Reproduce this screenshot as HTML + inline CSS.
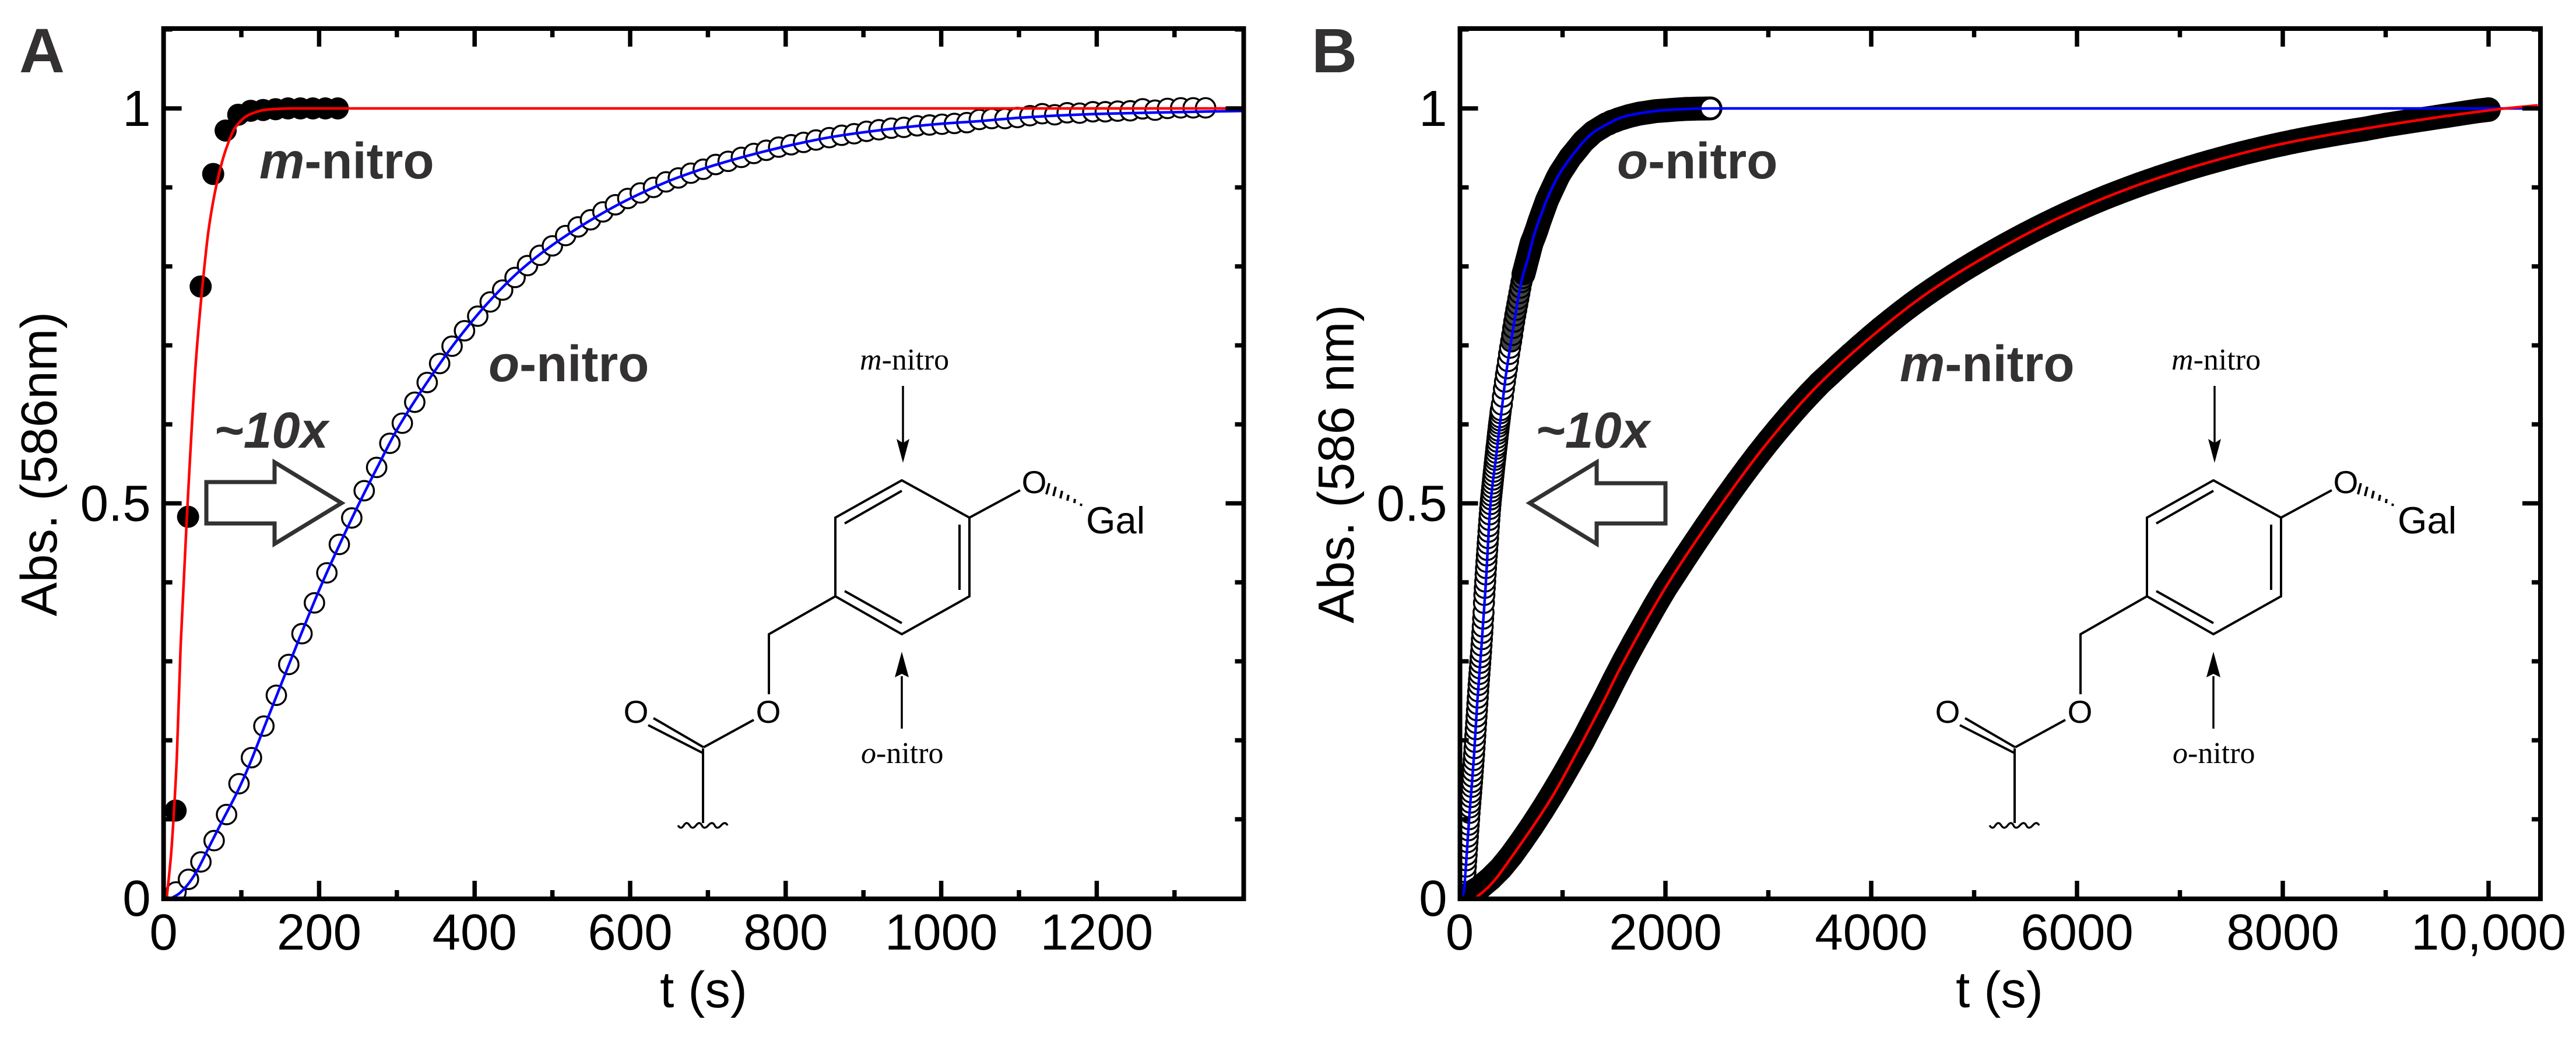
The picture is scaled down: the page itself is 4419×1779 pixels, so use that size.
<!DOCTYPE html>
<html lang="en">
<head>
<meta charset="utf-8">
<title>Kinetics of m-nitro and o-nitro substrates</title>
<style>
html,body{margin:0;padding:0;background:#fff}
svg{display:block}
text{font-family:"Liberation Sans",sans-serif}
.tick-label{font-size:87px;fill:#000}
.axis-title{font-size:87px;fill:#000}
.anno{font-size:87px;font-weight:bold;fill:#333132}
.panel{font-size:108px;font-weight:bold;fill:#333132}
.chem{font-size:55px;fill:#000}
.chem-label{font-size:52px;fill:#000;font-family:"Liberation Serif",serif}
</style>
</head>
<body>
<svg id="fig" width="4419" height="1779" viewBox="0 0 4419 1779" xmlns="http://www.w3.org/2000/svg">
<rect width="4419" height="1779" fill="#fff"/>
<defs>
<clipPath id="clipA"><rect x="280" y="49" width="1853" height="1493"/></clipPath>
<clipPath id="clipB"><rect x="2504" y="49" width="1854" height="1493"/></clipPath>
</defs>
<g id="plotA"></g>
<g id="plotB"></g>

<text class="panel" x="33" y="124">A</text>
<text class="panel" x="2250" y="124">B</text>

<text class="axis-title" text-anchor="middle" transform="translate(97,796) rotate(-90)">Abs. (586nm)</text>
<text class="axis-title" text-anchor="middle" x="1207" y="1728">t (s)</text>
<text class="axis-title" text-anchor="middle" transform="translate(2322,796) rotate(-90)">Abs. (586 nm)</text>
<text class="axis-title" text-anchor="middle" x="3430" y="1728">t (s)</text>

<text class="anno" x="445" y="306"><tspan font-style="italic">m</tspan>-nitro</text>
<text class="anno" x="838" y="654"><tspan font-style="italic">o</tspan>-nitro</text>
<text class="anno" font-style="italic" x="367" y="768">~10x</text>
<polygon points="354,827 471,827 471,793 586,863 471,933 471,898 354,898" fill="#fff" stroke="#333132" stroke-width="7"/>

<text class="anno" x="2774" y="306"><tspan font-style="italic">o</tspan>-nitro</text>
<text class="anno" x="3259" y="654"><tspan font-style="italic">m</tspan>-nitro</text>
<text class="anno" font-style="italic" x="2634" y="768">~10x</text>
<polygon points="2857,829 2739,829 2739,793 2624,863 2739,933 2739,898 2857,898" fill="#fff" stroke="#333132" stroke-width="7"/>

<g>
<g fill="none" stroke="#000" stroke-width="4">
<polygon points="1547,824 1663,888 1663,1023 1547,1088 1433,1023 1433,888"/>
<path d="M1449,898 L1547,842 M1646,900 L1646,1012 M1449,1014 L1547,1069 M1663,888 L1750,841 M1433,1023 L1319,1088 L1319,1191 M1293,1235 L1207,1282 M1207,1282 L1121,1232 M1206,1292 L1112,1244 M1206,1284 L1206,1412"/>
<path d="M1800,829 L1795,848 M1811,835 L1807,851 M1822,842 L1819,855 M1833,849 L1831,859 M1844,856 L1843,863 M1855,864 L1854,868"/>
<path d="M1163,1416 q5,8 10,0 t10,0 t11,0 t10,0 t11,0 t11,0 t11,0 t11,0" stroke-width="3.5"/>
<path d="M1549,662 L1549,760 M1547,1160 L1547,1250" stroke-width="3.5"/>
</g>
<polygon points="1538,753 1549,794 1560,753 1549,760" fill="#000"/>
<polygon points="1535,1162 1547,1118 1559,1162 1547,1156" fill="#000"/>
<text class="chem" x="1774" y="846" text-anchor="middle">O</text>
<text class="chem" x="1318" y="1240" text-anchor="middle">O</text>
<text class="chem" x="1091" y="1240" text-anchor="middle">O</text>
<text class="chem" x="1863" y="915" style="font-size:65px">Gal</text>
<text class="chem-label" x="1475" y="634"><tspan font-style="italic">m</tspan>-nitro</text>
<text class="chem-label" x="1477" y="1309"><tspan font-style="italic">o</tspan>-nitro</text>
</g>

<g transform="translate(2250,0)">
<g fill="none" stroke="#000" stroke-width="4">
<polygon points="1547,824 1663,888 1663,1023 1547,1088 1433,1023 1433,888"/>
<path d="M1449,898 L1547,842 M1646,900 L1646,1012 M1449,1014 L1547,1069 M1663,888 L1750,841 M1433,1023 L1319,1088 L1319,1191 M1293,1235 L1207,1282 M1207,1282 L1121,1232 M1206,1292 L1112,1244 M1206,1284 L1206,1412"/>
<path d="M1800,829 L1795,848 M1811,835 L1807,851 M1822,842 L1819,855 M1833,849 L1831,859 M1844,856 L1843,863 M1855,864 L1854,868"/>
<path d="M1163,1416 q5,8 10,0 t10,0 t11,0 t10,0 t11,0 t11,0 t11,0 t11,0" stroke-width="3.5"/>
<path d="M1549,662 L1549,760 M1547,1160 L1547,1250" stroke-width="3.5"/>
</g>
<polygon points="1538,753 1549,794 1560,753 1549,760" fill="#000"/>
<polygon points="1535,1162 1547,1118 1559,1162 1547,1156" fill="#000"/>
<text class="chem" x="1774" y="846" text-anchor="middle">O</text>
<text class="chem" x="1318" y="1240" text-anchor="middle">O</text>
<text class="chem" x="1091" y="1240" text-anchor="middle">O</text>
<text class="chem" x="1863" y="915" style="font-size:65px">Gal</text>
<text class="chem-label" x="1475" y="634"><tspan font-style="italic">m</tspan>-nitro</text>
<text class="chem-label" x="1477" y="1309"><tspan font-style="italic">o</tspan>-nitro</text>
</g>
</svg>

<script>
// ---- Panel A data ----
const aXTickLabels = ['0','200','400','600','800','1000','1200'];
const aXTickValues = [0,200,400,600,800,1000,1200];
const aXMinorValues = [100,300,500,700,900,1100,1300];
const bXTickLabels = ['0','2000','4000','6000','8000','10,000'];
const bXTickValues = [0,2000,4000,6000,8000,10000];
const bXMinorValues = [1000,3000,5000,7000,9000];
const yTickLabels = ['0','0.5','1'];
const yTickValues = [0,0.5,1];
const yMinorValues = [0.1,0.2,0.3,0.4,0.6,0.7,0.8,0.9,1.1];

const aMTime = [15.5,31.5,47.7,63.8,79.8,96,112,128,144,160,176,192,208,224];
const aMValues = [0.111,0.483,0.7745,0.917,0.972,0.992,0.997,0.998,0.999,1,1,1,1,1];
const aMFitTime = [4,9.6,13.4,17,22,30,41.4,49.8,58,68,80,93,110,133,167,1400];
const aMFitValues = [0,0.055,0.111,0.178,0.32,0.483,0.6775,0.773,0.847,0.903,0.9476,0.977,0.992,0.9985,1,1];

const aOTime = [16,32,48,65,81,97,113,129,145,161,178,194,210,226,242,258,274,291,307,323,339,355,371,387,404,420,436,452,468,484,500,517,533,549,565,581,597,613,630,646,662,678,694,710,726,743,759,775,791,807,823,839,856,872,888,904,920,936,952,969,985,1001,1017,1033,1049,1065,1082,1098,1114,1130,1146,1162,1178,1195,1211,1227,1243,1259,1275,1291,1308,1324,1340];
const aOValues = [0.008,0.024,0.046,0.073,0.106,0.145,0.178,0.218,0.257,0.296,0.335,0.374,0.412,0.448,0.4815,0.516,0.5455,0.576,0.6015,0.628,0.653,0.677,0.699,0.7185,0.737,0.755,0.77,0.786,0.801,0.814,0.826,0.839,0.85,0.859,0.869,0.878,0.886,0.893,0.9,0.907,0.912,0.918,0.923,0.929,0.933,0.938,0.943,0.947,0.951,0.954,0.957,0.96,0.963,0.966,0.968,0.971,0.973,0.975,0.976,0.978,0.979,0.98,0.981,0.982,0.986,0.9872,0.9872,0.9885,0.9908,0.9933,0.992,0.9945,0.994,0.9958,0.9958,0.9966,0.997,0.9995,0.9978,1,1.0007,1.0007,1.0007];
const aOFitTime = [10,20,30,42,57,75,95,110,130,150,175,200,225,250,275,300,340,380,420,460,500,550,600,660,725,800,860,926,993,1050,1105,1200,1340,1400];
const aOFitValues = [0,0.006,0.016,0.033,0.062,0.097,0.135,0.168,0.218,0.268,0.33,0.39,0.445,0.497,0.546,0.593,0.655,0.71,0.757,0.796,0.827,0.859,0.886,0.912,0.933,0.952,0.964,0.973,0.98,0.984,0.9885,0.993,0.996,0.997];

// ---- Panel B data ----
const bOTime = [4,8,12,16,20,24,28,32,36,40,44,48,52,56,60,64,68,72,76,80,84,88,92,96,100,104,108,112,116,120,124,128,132,136,140,144,148,152,156,160,164,168,172,176,180,184,188,192,196,200,204,208,212,216,220,224,228,232,236,240,244,248,252,256,260,264,268,272,276,280,284,288,292,296,300,304,308,312,316,320,324,328,332,336,340,344,348,352,356,360,364,368,372,376,380,384,388,392,396,400,410,420,430,440,450,460,470,480,490,500,510,520,530,540,550,560,570,580,590,600,610,620,630,640,650,660,670,680,690,700,725,750,775,800,825,850,875,900,925,950,975,1000,1025,1050,1075,1100,1125,1150,1175,1200,1225,1250,1275,1300,1325,1350,1375,1400,1425,1450,1475,1500,1550,1600,1650,1700,1750,1800,1850,1900,1950,2000,2050,2100,2150,2200,2250,2300,2350,2400,2438];
const bOValues = [0,0,0.001,0.001,0.002,0.003,0.004,0.005,0.006,0.008,0.014,0.02,0.026,0.033,0.04,0.048,0.055,0.063,0.071,0.078,0.086,0.093,0.1,0.108,0.115,0.121,0.128,0.134,0.141,0.147,0.154,0.161,0.168,0.175,0.182,0.19,0.198,0.206,0.214,0.222,0.23,0.238,0.246,0.254,0.262,0.27,0.277,0.284,0.291,0.298,0.305,0.312,0.32,0.328,0.336,0.344,0.354,0.362,0.374,0.384,0.393,0.401,0.41,0.418,0.426,0.434,0.441,0.449,0.456,0.464,0.471,0.479,0.486,0.493,0.499,0.505,0.51,0.515,0.52,0.525,0.53,0.535,0.54,0.545,0.55,0.555,0.559,0.564,0.569,0.573,0.578,0.583,0.588,0.592,0.597,0.601,0.605,0.609,0.614,0.618,0.625,0.635,0.645,0.654,0.663,0.671,0.68,0.689,0.697,0.705,0.713,0.722,0.73,0.738,0.745,0.752,0.759,0.766,0.773,0.78,0.785,0.79,0.795,0.8,0.805,0.81,0.815,0.82,0.825,0.83,0.838,0.847,0.857,0.866,0.875,0.884,0.891,0.898,0.905,0.912,0.918,0.923,0.928,0.933,0.938,0.942,0.946,0.95,0.954,0.958,0.961,0.964,0.967,0.97,0.972,0.974,0.976,0.978,0.98,0.981,0.983,0.984,0.9865,0.9885,0.9905,0.992,0.9935,0.9945,0.9955,0.9965,0.997,0.9975,0.998,0.9985,0.999,0.9993,0.9995,0.9997,0.9998,0.9999,1];
const bOFitTime = [20,40,60,80,100,120,140,170,210,250,300,350,408,450,490,528,597,674,723,790,852,960,1080,1283,1404,1608,1860,2004,2438,10500];
const bOFitValues = [0.002,0.008,0.04,0.078,0.115,0.147,0.182,0.246,0.316,0.39,0.4996,0.555,0.618,0.663,0.697,0.728,0.779,0.815,0.84,0.865,0.886,0.915,0.938,0.968,0.978,0.99,0.996,0.998,1,1];

const bMTime = [100,200,300,400,500,600,700,800,900,1000,1100,1200,1300,1400,1500,1600,1700,1800,1900,2000,2100,2200,2300,2400,2500,2600,2700,2800,2900,3000,3100,3200,3300,3400,3500,3600,3700,3800,3900,4000,4100,4200,4300,4400,4500,4600,4700,4800,4900,5000,5100,5200,5300,5400,5500,5600,5700,5800,5900,6000,6100,6200,6300,6400,6500,6600,6700,6800,6900,7000,7100,7200,7300,7400,7500,7600,7700,7800,7900,8000,8100,8200,8300,8400,8500,8600,8700,8800,8900,9000,9100,9200,9300,9400,9500,9600,9700,9800,9900,10000];
const bMValues = [0.006,0.014,0.025,0.038,0.054,0.072,0.091,0.111,0.132,0.154,0.177,0.2,0.225,0.25,0.276,0.301,0.325,0.348,0.371,0.393,0.413,0.433,0.4525,0.4718,0.4907,0.5092,0.5273,0.5449,0.562,0.5785,0.5944,0.6097,0.6244,0.6385,0.6521,0.664,0.6762,0.688,0.6995,0.7108,0.7218,0.7322,0.7424,0.7523,0.7618,0.7708,0.7795,0.7879,0.7961,0.804,0.8117,0.8192,0.8265,0.8336,0.8405,0.8472,0.8537,0.86,0.8661,0.872,0.8777,0.8832,0.8885,0.8936,0.8985,0.9033,0.9079,0.9124,0.9167,0.9209,0.9249,0.9288,0.9325,0.9361,0.9396,0.943,0.9462,0.9493,0.9523,0.9552,0.9579,0.9605,0.963,0.9654,0.9677,0.9699,0.972,0.9741,0.9766,0.979,0.981,0.983,0.985,0.987,0.989,0.991,0.993,0.995,0.997,0.9985];
const bMFitTime = [153,300,525,883,1065,1209,1421,1535,2004,2475,2980,3449,3956,4533,5040,5802,6524,7246,7968,8691,9413,10136,10478];
const bMFitValues = [0,0.017,0.056,0.125,0.167,0.202,0.255,0.285,0.394,0.486,0.575,0.645,0.706,0.765,0.807,0.86,0.8997,0.9305,0.9545,0.972,0.987,0.9996,1.004];

// ---- Axis functions ----
const NS = 'http://www.w3.org/2000/svg';
const Y0 = 1541, Y1 = 186;
const yScale = v => Y0 + (Y1 - Y0) * v;
const xScaleA = t => 280.6 + t * 1.334;
const xScaleB = t => 2504 + t * 0.1765;

function make(tag, parent, attrs) {
  const el = document.createElementNS(NS, tag);
  for (const k in attrs) el.setAttribute(k, attrs[k]);
  parent.appendChild(el);
  return el;
}
function pts(T, V, sx) {
  return T.map((t, i) => sx(t).toFixed(1) + ',' + yScale(V[i]).toFixed(1)).join(' ');
}
// monotone cubic path through the data knots
function smoothPath(T, V, sx) {
  const xs = T.map(sx), ys = V.map(yScale), n = xs.length;
  const d = [];
  for (let i = 0; i < n - 1; i++) d.push((ys[i + 1] - ys[i]) / (xs[i + 1] - xs[i]));
  const m = [d[0]];
  for (let i = 1; i < n - 1; i++) {
    m.push(d[i - 1] * d[i] <= 0 ? 0 : 2 * d[i - 1] * d[i] / (d[i - 1] + d[i]));
  }
  m.push(d[n - 2]);
  let p = 'M' + xs[0].toFixed(1) + ',' + ys[0].toFixed(1);
  for (let i = 0; i < n - 1; i++) {
    const h = (xs[i + 1] - xs[i]) / 3;
    p += ' C' + (xs[i] + h).toFixed(1) + ',' + (ys[i] + m[i] * h).toFixed(1) + ' ' +
      (xs[i + 1] - h).toFixed(1) + ',' + (ys[i + 1] - m[i + 1] * h).toFixed(1) + ' ' +
      xs[i + 1].toFixed(1) + ',' + ys[i + 1].toFixed(1);
  }
  return p;
}

function drawAxes(parent, L, R, sx, majors, labels, minors) {
  const T = 49, B = 1542;
  majors.forEach((v, i) => {
    const x = sx(v);
    [[B, B - 31], [T, T + 31]].forEach(p => {
      if (v === 0) return;
      const tick = make('line', parent, {x1: x, x2: x, y1: p[0], y2: p[1], stroke: '#000', 'stroke-width': 7.5});
      
      
    });
    const lab = make('text', parent, {x: x, y: 1629, 'text-anchor': 'middle', class: 'tick-label'});
    lab.textContent = labels[i];
    
    
  });
  minors.forEach(v => {
    const x = sx(v);
    [[B, B - 15], [T, T + 15]].forEach(p => {
      const tick = make('line', parent, {x1: x, x2: x, y1: p[0], y2: p[1], stroke: '#000', 'stroke-width': 7.5});
      
      
    });
  });
  yTickValues.forEach((v, i) => {
    const y = yScale(v);
    [[L, L + 31], [R, R - 31]].forEach(p => {
      if (v === 0) return;
      const tick = make('line', parent, {x1: p[0], x2: p[1], y1: y, y2: y, stroke: '#000', 'stroke-width': 7.5});
      
      
    });
    const lab = make('text', parent, {x: L - 22, y: y + 30, 'text-anchor': 'end', class: 'tick-label'});
    lab.textContent = yTickLabels[i];
    
    
  });
  yMinorValues.forEach(v => {
    const y = yScale(v);
    [[L, L + 15], [R, R - 15]].forEach(p => {
      const tick = make('line', parent, {x1: p[0], x2: p[1], y1: y, y2: y, stroke: '#000', 'stroke-width': 7.5});
      
      
    });
  });
  const frame = make('rect', parent, {x: L, y: T, width: R - L, height: B - T, fill: 'none', stroke: '#000', 'stroke-width': 8});
  
  
}

// ---- Panel A ----
const plotA = document.getElementById('plotA');
const clipA = make('g', plotA, {'clip-path': 'url(#clipA)'});


aOTime.forEach((t, i) => {
  const c = make('circle', clipA, {cx: xScaleA(t), cy: yScale(aOValues[i]), r: 16.7, fill: '#fff', stroke: '#000', 'stroke-width': 3.4});
  
  
});
aMTime.forEach((t, i) => {
  const c = make('circle', clipA, {cx: xScaleA(t), cy: yScale(aMValues[i]), r: 19, fill: '#000'});
  
  
});
const aMFit = make('path', clipA, {d: smoothPath(aMFitTime, aMFitValues, xScaleA), fill: 'none', stroke: '#f00', 'stroke-width': 4.5});


const aOFit = make('path', clipA, {d: smoothPath(aOFitTime, aOFitValues, xScaleA), fill: 'none', stroke: '#00f', 'stroke-width': 4.5});


drawAxes(plotA, 280.6, 2133.5, xScaleA, aXTickValues, aXTickLabels, aXMinorValues);

// ---- Panel B ----
const plotB = document.getElementById('plotB');
const clipB = make('g', plotB, {'clip-path': 'url(#clipB)'});



const lateStart = bOTime.findIndex(t => t >= 620);
const oBand = make('polyline', clipB, {points: pts(bOTime.slice(lateStart), bOValues.slice(lateStart), xScaleB), fill: 'none', stroke: '#000', 'stroke-width': 41, 'stroke-linejoin': 'round', 'stroke-linecap': 'round'});


bOTime.forEach((t, i) => {
  const last = i === bOTime.length - 1;
  const fill = last ? '#fff' : (t < 500 ? '#fff' : (t < 620 ? '#444' : '#000'));
  const c = make('circle', clipB, {cx: xScaleB(t), cy: yScale(bOValues[i]), r: 17.2, fill: fill, stroke: '#000', 'stroke-width': 3.4});
  
  
});
const mBand = make('polyline', clipB, {points: pts(bMTime, bMValues, xScaleB), fill: 'none', stroke: '#000', 'stroke-width': 42, 'stroke-linejoin': 'round', 'stroke-linecap': 'round'});


bMTime.forEach((t, i) => {
  const c = make('circle', clipB, {cx: xScaleB(t), cy: yScale(bMValues[i]), r: 21, fill: '#000'});
  
  
});
const bOFit = make('path', clipB, {d: smoothPath(bOFitTime, bOFitValues, xScaleB), fill: 'none', stroke: '#00f', 'stroke-width': 4.5});


const bMFit = make('path', clipB, {d: smoothPath(bMFitTime, bMFitValues, xScaleB), fill: 'none', stroke: '#f00', 'stroke-width': 4.5});


drawAxes(plotB, 2504.5, 4358, xScaleB, bXTickValues, bXTickLabels, bXMinorValues);
</script>
</body>
</html>
